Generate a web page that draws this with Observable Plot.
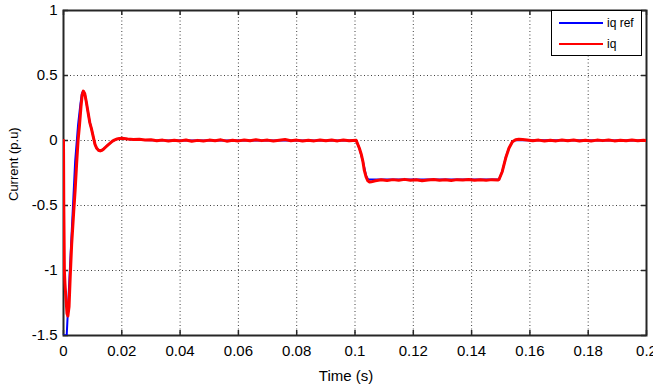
<!DOCTYPE html>
<html>
<head>
<meta charset="utf-8">
<script src="https://cdn.jsdelivr.net/npm/d3@7"></script>
<script src="https://cdn.jsdelivr.net/npm/@observablehq/plot@0.6"></script>
<style>
  html, body { margin: 0; padding: 0; background: #fff; }
  #wrap { position: relative; width: 653px; height: 388px; font-family: "Liberation Sans", Arial, sans-serif; }
  #legend { position: absolute; left: 551px; top: 10px; width: 91px; height: 46px; border: 1px solid #000; background: #fff; box-sizing: border-box; }
  #legend .row { position: absolute; left: 7px; height: 14px; display: flex; align-items: center; font-size: 12px; color: #000; }
  #legend .sw { display: inline-block; width: 44px; height: 2px; margin-right: 4px; }
</style>
</head>
<body>
<div id="wrap"></div>
<script>
// ---- data ----
const xTicks = [0, 0.02, 0.04, 0.06, 0.08, 0.1, 0.12, 0.14, 0.16, 0.18, 0.2];
const xTickLabels = ["0", "0.02", "0.04", "0.06", "0.08", "0.1", "0.12", "0.14", "0.16", "0.18", "0.2"];
const yTicks = [1, 0.5, 0, -0.5, -1, -1.5];
const yTickLabels = ["1", "0.5", "0", "-0.5", "-1", "-1.5"];
const seriesNames = ["iq ref", "iq"];
const seriesColors = ["#0000ff", "#ff0000"];

// iq ref (blue)
const tRef = [0, 0.0011, 0.002, 0.003, 0.004, 0.005, 0.0058, 0.0063, 0.0067, 0.0073, 0.0078, 0.0084, 0.009, 0.0096, 0.0102, 0.0108, 0.0114, 0.012, 0.0126, 0.0138, 0.0152, 0.0168, 0.0184, 0.02, 0.025, 0.03, 0.04, 0.1004, 0.1015, 0.1027, 0.1038, 0.1045, 0.1494, 0.1505, 0.1517, 0.1528, 0.154, 0.1551, 0.16, 0.2];
const iqRef = [-1.5, -1.5, -1.08, -0.62, -0.16, 0.12, 0.28, 0.36, 0.38, 0.36, 0.3, 0.22, 0.14, 0.09, 0.03, -0.03, -0.06, -0.075, -0.08, -0.065, -0.035, -0.005, 0.012, 0.016, 0.006, 0.002, 0, 0, -0.06, -0.16, -0.27, -0.3, -0.3, -0.24, -0.13, -0.06, -0.01, 0.004, 0.002, 0];

// iq (red)
const tIq = [0, 0.0001, 0.0003, 0.0005, 0.0008, 0.0012, 0.0015, 0.0019, 0.0023, 0.0028, 0.0035, 0.004, 0.0045, 0.005, 0.0055, 0.006, 0.0064, 0.0068, 0.0073, 0.0078, 0.0084, 0.009, 0.0096, 0.0102, 0.0108, 0.0114, 0.012, 0.0126, 0.0132, 0.0138, 0.0145, 0.0152, 0.016, 0.0168, 0.0176, 0.0184, 0.0192, 0.02,
  0.022, 0.024, 0.026, 0.028, 0.030, 0.032, 0.034, 0.036, 0.038, 0.040, 0.042, 0.044, 0.046, 0.048, 0.050, 0.052, 0.054, 0.056, 0.058, 0.060, 0.062, 0.064, 0.066, 0.068, 0.070, 0.072, 0.074, 0.076, 0.078, 0.080, 0.082, 0.084, 0.086, 0.088, 0.090, 0.092, 0.094, 0.096, 0.098, 0.1004,
  0.1015, 0.1022, 0.1027, 0.1032, 0.1038, 0.1044, 0.105, 0.1056, 0.107,
  0.109, 0.111, 0.113, 0.115, 0.117, 0.119, 0.121, 0.123, 0.125, 0.127, 0.129, 0.131, 0.133, 0.135, 0.137, 0.139, 0.141, 0.143, 0.145, 0.147, 0.149, 0.1494,
  0.1505, 0.1517, 0.1528, 0.154, 0.1551, 0.1562, 0.1575, 0.159,
  0.161, 0.163, 0.165, 0.167, 0.169, 0.171, 0.173, 0.175, 0.177, 0.179, 0.181, 0.183, 0.185, 0.187, 0.189, 0.191, 0.193, 0.195, 0.197, 0.199, 0.2];
const iq = [0, -0.5, -1.0, -1.1, -1.2, -1.33, -1.35, -1.28, -1.05, -0.8, -0.55, -0.38, -0.18, 0.0, 0.12, 0.26, 0.35, 0.38, 0.36, 0.3, 0.22, 0.14, 0.09, 0.03, -0.03, -0.06, -0.075, -0.08, -0.075, -0.065, -0.05, -0.035, -0.02, -0.005, 0.005, 0.012, 0.016, 0.018,
  0.012, 0.008, 0.010, 0.004, 0.006, -0.002, 0.003, -0.004, 0.002, -0.003, 0.004, -0.006, 0.001, -0.004, 0.003, -0.002, 0.005, -0.005, 0.002, -0.003, 0.004, -0.002, 0.006, -0.001, 0.003, -0.004, 0.002, 0.007, -0.002, 0.003, -0.004, 0.002, -0.003, 0.004, -0.002, 0.003, -0.003, 0.004, -0.002, 0.002,
  -0.06, -0.11, -0.16, -0.23, -0.28, -0.31, -0.32, -0.318, -0.31,
  -0.302, -0.308, -0.301, -0.306, -0.299, -0.305, -0.302, -0.309, -0.303, -0.300, -0.306, -0.302, -0.307, -0.301, -0.304, -0.300, -0.306, -0.302, -0.305, -0.301, -0.304, -0.30,
  -0.24, -0.135, -0.06, -0.01, 0.006, 0.01, 0.008, 0.004,
  -0.002, 0.003, -0.004, 0.002, -0.003, 0.004, -0.002, 0.003, -0.003, 0.002, -0.004, 0.003, -0.001, 0.004, -0.003, 0.002, -0.002, 0.003, -0.002, 0.002, 0];

const refData = tRef.map((t, i) => ({t, v: iqRef[i]}));
const iqData = tIq.map((t, i) => ({t, v: iq[i]}));

const W = 653, H = 388, mL = 63, mR = 7, mT = 10, mB = 53;
const innerH = H - mT - mB, innerW = W - mL - mR;

const chart = Plot.plot({
  width: W, height: H,
  marginLeft: mL, marginRight: mR, marginTop: mT, marginBottom: mB,
  style: {fontFamily: "'Liberation Sans', Arial, sans-serif", background: "#fff", color: "#000"},
  x: {domain: [0, 0.2]},
  y: {domain: [-1.5, 1]},
  marks: [
    Plot.gridX(xTicks, {stroke: "#000", strokeOpacity: 0.75, strokeDasharray: "1,2.5"}),
    Plot.gridY(yTicks, {stroke: "#000", strokeOpacity: 0.75, strokeDasharray: "1,2.5"}),
    Plot.frame({stroke: "#262626", strokeWidth: 2}),
    Plot.tickX(xTicks, {x: d => d, insetTop: innerH - 5, stroke: "#262626", strokeWidth: 1.5}),
    Plot.tickX(xTicks, {x: d => d, insetBottom: innerH - 5, stroke: "#262626", strokeWidth: 1.5}),
    Plot.tickY(yTicks, {y: d => d, insetRight: innerW - 5, stroke: "#262626", strokeWidth: 1.5}),
    Plot.tickY(yTicks, {y: d => d, insetLeft: innerW - 5, stroke: "#262626", strokeWidth: 1.5}),
    Plot.axisX(xTicks, {tickSize: 0, tickPadding: 10, fontSize: 15, label: null, tickFormat: d => xTickLabels[xTicks.indexOf(d)]}),
    Plot.axisY(yTicks, {tickSize: 0, tickPadding: 6, fontSize: 15, label: null, tickFormat: d => yTickLabels[yTicks.indexOf(d)]}),
    Plot.line(refData, {x: "t", y: "v", stroke: seriesColors[0], strokeWidth: 2, clip: true}),
    Plot.line(iqData, {x: "t", y: "v", stroke: seriesColors[1], strokeWidth: 3, clip: true}),
    Plot.text(["Time (s)"], {frameAnchor: "bottom", dy: 41, dx: -9, fontSize: 15, lineAnchor: "middle", fill: "#000"}),
    Plot.text(["Current (p.u)"], {frameAnchor: "left", dx: -50, dy: 28, rotate: -90, fontSize: 13, lineAnchor: "middle", fill: "#000"})
  ]
});

const wrap = document.getElementById("wrap");
wrap.appendChild(chart);

const legend = document.createElement("div");
legend.id = "legend";
seriesNames.forEach((name, i) => {
  const row = document.createElement("div");
  row.className = "row";
  row.style.top = (i === 0 ? 4.5 : 25.5) + "px";
  const sw = document.createElement("span");
  sw.className = "sw";
  sw.style.background = seriesColors[i];
  row.appendChild(sw);
  const lab = document.createElement("span");
  lab.textContent = name;
  row.appendChild(lab);
  legend.appendChild(row);
});
wrap.appendChild(legend);
</script>
</body>
</html>
